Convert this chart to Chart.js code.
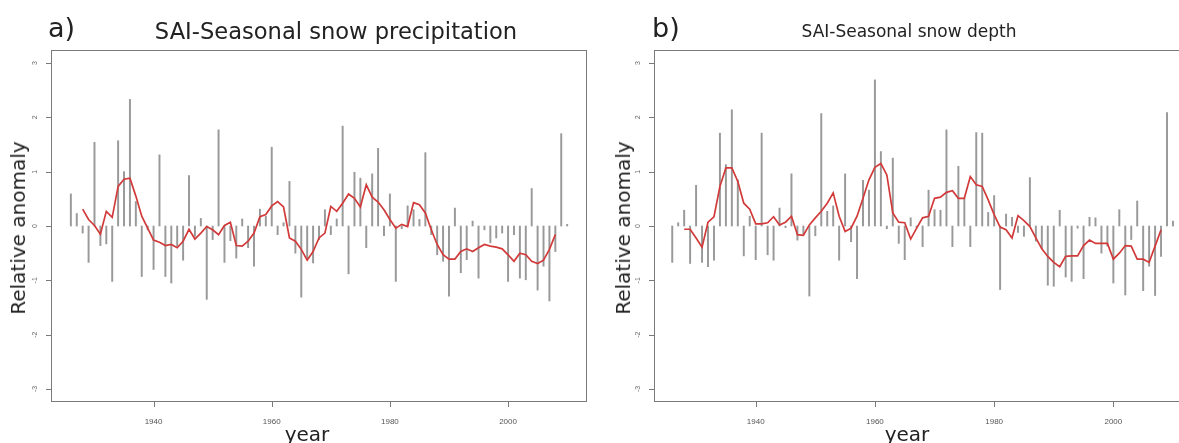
<!DOCTYPE html>
<html lang="en">
<head>
  <meta charset="UTF-8">
  <title>SAI - Seasonal snow</title>
  <script src="https://cdn.jsdelivr.net/npm/chart.js"></script>
  <style>
    body {
      margin: 0;
      width: 1179px;
      height: 443px;
      overflow: hidden;
      background: #fff;
      font-family: 'DejaVu Sans', sans-serif;
      color: #222;
    }

    .panel {
      position: absolute;
      top: 0;
      width: 600px;
      height: 443px;
    }

    .panel canvas {
      position: absolute;
      left: 0;
      top: 0;
    }

    .tag {
      position: absolute;
      top: 12px;
      font-size: 27px;
    }

    .title {
      position: absolute;
      white-space: nowrap;
      transform: translate(-50%, -50%);
    }

    .ylab {
      position: absolute;
      font-size: 20px;
      white-space: nowrap;
      transform: translate(-50%, -50%) rotate(-90deg);
    }

    .xlab {
      position: absolute;
      top: 422px;
      font-size: 20px;
      transform: translateX(-50%);
    }
  </style>
</head>

<body>
  <div class="panel" style="left:0">
    <canvas id="chartA" width="600" height="443"></canvas>
    <div class="tag" style="left:48px">a)</div>
    <div class="title" style="left:336px; top:31px; font-size:22.6px">SAI-Seasonal snow precipitation</div>
    <div class="ylab" style="left:18px; top:228px">Relative anomaly</div>
    <div class="xlab" style="left:307px">year</div>
  </div>
  <div class="panel" style="left:600px">
    <canvas id="chartB" width="600" height="443"></canvas>
    <div class="tag" style="left:52px">b)</div>
    <div class="title" style="left:309px; top:31px; font-size:17px">SAI-Seasonal snow depth</div>
    <div class="ylab" style="left:23px; top:228px">Relative anomaly</div>
    <div class="xlab" style="left:307px">year</div>
  </div>

  <script>
    // years of the seasonal series
    const years = [
      1926, 1927, 1928, 1929, 1930, 1931, 1932, 1933, 1934, 1935,
      1936, 1937, 1938, 1939, 1940, 1941, 1942, 1943, 1944, 1945,
      1946, 1947, 1948, 1949, 1950, 1951, 1952, 1953, 1954, 1955,
      1956, 1957, 1958, 1959, 1960, 1961, 1962, 1963, 1964, 1965,
      1966, 1967, 1968, 1969, 1970, 1971, 1972, 1973, 1974, 1975,
      1976, 1977, 1978, 1979, 1980, 1981, 1982, 1983, 1984, 1985,
      1986, 1987, 1988, 1989, 1990, 1991, 1992, 1993, 1994, 1995,
      1996, 1997, 1998, 1999, 2000, 2001, 2002, 2003, 2004, 2005,
      2006, 2007, 2008, 2009, 2010
    ];

    // years covered by the red running mean
    const smoothYears = [
      1928, 1929, 1930, 1931, 1932, 1933, 1934, 1935, 1936, 1937,
      1938, 1939, 1940, 1941, 1942, 1943, 1944, 1945, 1946, 1947,
      1948, 1949, 1950, 1951, 1952, 1953, 1954, 1955, 1956, 1957,
      1958, 1959, 1960, 1961, 1962, 1963, 1964, 1965, 1966, 1967,
      1968, 1969, 1970, 1971, 1972, 1973, 1974, 1975, 1976, 1977,
      1978, 1979, 1980, 1981, 1982, 1983, 1984, 1985, 1986, 1987,
      1988, 1989, 1990, 1991, 1992, 1993, 1994, 1995, 1996, 1997,
      1998, 1999, 2000, 2001, 2002, 2003, 2004, 2005, 2006, 2007,
      2008
    ];

    // a) snow precipitation anomaly
    const precipValues = [
      0.59, 0.23, -0.13, -0.67, 1.54, -0.36, -0.33, -1.02, 1.57, 1.00,
      2.33, 0.45, -0.93, -0.07, -0.80, 1.31, -0.93, -1.05, -0.37, -0.63,
      0.93, -0.19, 0.14, -1.35, -0.25, 1.77, -0.67, -0.27, -0.59, 0.13,
      -0.40, -0.74, 0.31, 0.18, 1.45, -0.16, 0.06, 0.82, -0.50, -1.31,
      -0.62, -0.68, -0.25, 0.30, -0.16, 0.13, 1.84, -0.88, 0.99, 0.88,
      -0.40, 0.96, 1.43, -0.18, 0.59, -1.02, -0.05, 0.37, 0.30, 0.12,
      1.35, -0.16, -0.53, -0.65, -1.29, 0.33, -0.86, -0.62, 0.09, -0.96,
      -0.07, -0.31, -0.22, -0.13, -1.02, -0.16, -0.96, -0.99, 0.69, -1.18,
      -0.74, -1.38, -0.47, 1.70, 0.03
    ];

    const precipSmooth = [
      0.31, 0.12, 0.01, -0.15, 0.27, 0.16, 0.73, 0.86, 0.88, 0.55,
      0.18, -0.04, -0.26, -0.30, -0.36, -0.34, -0.40, -0.28, -0.06, -0.24,
      -0.13, -0.01, -0.07, -0.16, 0.01, 0.07, -0.36, -0.37, -0.28, -0.13,
      0.17, 0.21, 0.37, 0.45, 0.35, -0.22, -0.28, -0.43, -0.63, -0.47,
      -0.22, -0.13, 0.36, 0.27, 0.42, 0.59, 0.51, 0.35, 0.76, 0.53,
      0.44, 0.30, 0.12, -0.04, 0.03, -0.01, 0.43, 0.39, 0.24, -0.07,
      -0.34, -0.53, -0.61, -0.61, -0.47, -0.42, -0.47, -0.40, -0.34, -0.37,
      -0.39, -0.42, -0.53, -0.65, -0.50, -0.53, -0.65, -0.69, -0.63, -0.43,
      -0.16
    ];

    // b) snow depth anomaly
    const depthValues = [
      -0.67, 0.06, 0.29, -0.69, 0.75, -0.67, -0.75, -0.63, 1.71, 1.13,
      2.14, 0.85, -0.55, 0.18, -0.62, 1.71, -0.53, -0.63, 0.33, -0.03,
      0.96, -0.26, -0.15, -1.29, -0.18, 2.07, 0.27, 0.37, -0.63, 0.96,
      -0.29, -0.97, 0.84, 0.66, 2.69, 1.37, -0.05, 1.25, -0.32, -0.62,
      0.15, -0.03, -0.38, 0.66, 0.30, 0.29, 1.77, -0.38, 1.10, 0.50,
      -0.38, 1.72, 1.71, 0.25, 0.56, -1.17, 0.22, 0.16, -0.12, -0.19,
      0.89, -0.28, -0.42, -1.09, -1.11, 0.29, -0.94, -1.02, -0.04, -0.97,
      0.16, 0.15, -0.50, -0.37, -1.05, 0.30, -1.27, -0.25, 0.46, -1.19,
      -0.74, -1.28, -0.56, 2.09, 0.09
    ];

    const depthSmooth = [
      -0.06, -0.06, -0.22, -0.39, 0.07, 0.17, 0.73, 1.07, 1.07, 0.82,
      0.42, 0.31, 0.04, 0.04, 0.06, 0.17, 0.02, 0.07, 0.18, -0.16,
      -0.17, 0.02, 0.15, 0.27, 0.42, 0.61, 0.18, -0.10, -0.04, 0.18,
      0.51, 0.85, 1.08, 1.15, 0.94, 0.24, 0.07, 0.06, -0.24, -0.04,
      0.15, 0.18, 0.51, 0.53, 0.62, 0.65, 0.51, 0.51, 0.91, 0.76,
      0.73, 0.48, 0.21, -0.02, -0.07, -0.22, 0.19, 0.10, -0.01, -0.22,
      -0.42, -0.56, -0.67, -0.75, -0.56, -0.55, -0.55, -0.36, -0.26, -0.32,
      -0.32, -0.32, -0.61, -0.50, -0.36, -0.37, -0.61, -0.61, -0.67, -0.37,
      -0.07
    ];

    const xTicks = [1940, 1960, 1980, 2000];
    const yTicks = [-3, -2, -1, 0, 1, 2, 3];

    // box around the plot region, tick marks and rotated y labels (R style)
    const rBox = {
      id: "rBox",
      afterDraw(chart) {
        const ctx = chart.ctx;
        const a = chart.chartArea;
        const xs = chart.scales.x;
        const ys = chart.scales.y;
        ctx.save();
        ctx.strokeStyle = "#7a7a7a";
        ctx.lineWidth = 1;
        ctx.strokeRect(a.left + 0.5, a.top + 0.5, a.right - a.left - 1, a.bottom - a.top - 1);
        ctx.beginPath();
        xTicks.forEach(v => {
          const px = Math.round(xs.getPixelForValue(v)) + 0.5;
          ctx.moveTo(px, a.bottom);
          ctx.lineTo(px, a.bottom + 5);
        });
        yTicks.forEach(v => {
          const py = Math.round(ys.getPixelForValue(v)) + 0.5;
          ctx.moveTo(a.left, py);
          ctx.lineTo(a.left - 5, py);
        });
        ctx.stroke();
        ctx.fillStyle = "#6a6a6a";
        ctx.font = "7px 'Liberation Sans', sans-serif";
        ctx.textAlign = "center";
        ctx.textBaseline = "middle";
        yTicks.forEach(v => {
          ctx.save();
          ctx.translate(a.left - 16, ys.getPixelForValue(v));
          ctx.rotate(-Math.PI / 2);
          ctx.fillText(String(v), 0, 0);
          ctx.restore();
        });
        ctx.restore();
      }
    };

    function makePanel(id, values, smooth, xMin, xMax, areaLeft, areaRight) {
      const ctx = document.getElementById(id).getContext("2d");
      new Chart(ctx, {
        type: "bar",
        data: {
          datasets: [{
            type: "line",
            data: smoothYears.map((y, i) => ({ x: y, y: smooth[i] })),
            borderColor: "#d23a3a",
            borderWidth: 1.7,
            pointRadius: 0,
            tension: 0,
            order: 0
          }, {
            type: "bar",
            data: years.map((y, i) => ({ x: y, y: values[i] })),
            backgroundColor: "#999999",
            barThickness: 1.3,
            order: 1
          }]
        },
        options: {
          responsive: false,
          animation: false,
          devicePixelRatio: 1,
          layout: {
            padding: { top: 50, left: 0, right: 600 - areaRight, bottom: 0 }
          },
          plugins: {
            legend: { display: false },
            tooltip: { enabled: false }
          },
          scales: {
            x: {
              type: "linear",
              min: xMin,
              max: xMax,
              offset: false,
              afterBuildTicks: s => { s.ticks = xTicks.map(v => ({ value: v })); },
              afterFit: s => { s.height = 41; },
              grid: { display: false },
              border: { display: false },
              ticks: {
                color: "#555",
                font: { size: 8, family: "'Liberation Sans', sans-serif" },
                padding: 7,
                maxRotation: 0,
                callback: v => String(v)
              }
            },
            y: {
              min: -3.24,
              max: 3.24,
              afterBuildTicks: s => { s.ticks = yTicks.map(v => ({ value: v })); },
              afterFit: s => { s.width = areaLeft; },
              grid: { display: false },
              border: { display: false },
              ticks: { display: false }
            }
          }
        },
        plugins: [rBox]
      });
    }

    makePanel("chartA", precipValues, precipSmooth, 1922.64, 2013.36, 51, 587);
    makePanel("chartB", depthValues, depthSmooth, 1922.94, 2013.36, 54, 593);
  </script>
</body>
</html>
